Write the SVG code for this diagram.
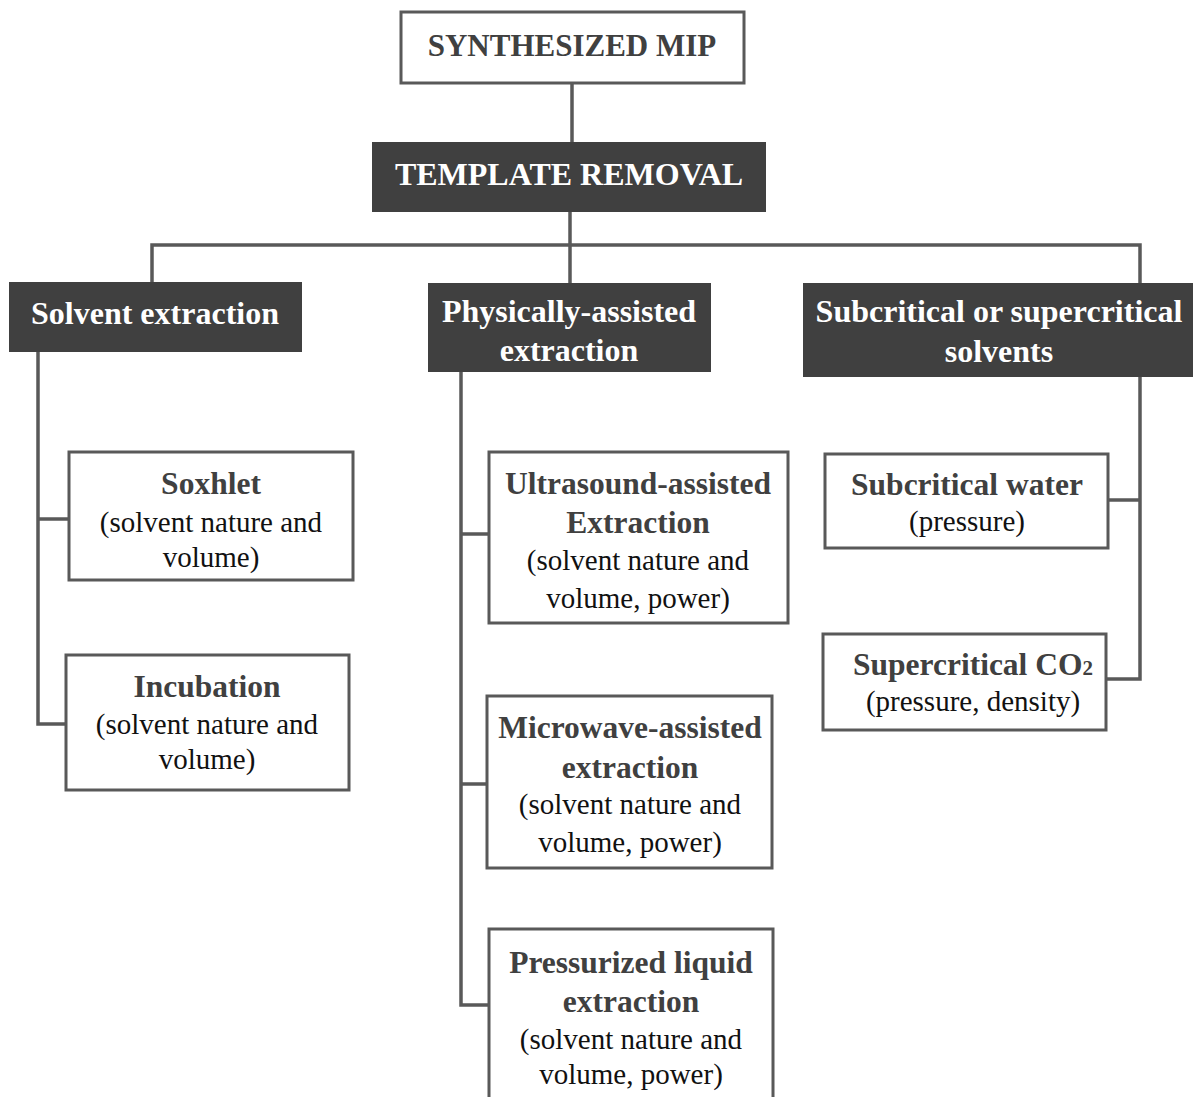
<svg xmlns="http://www.w3.org/2000/svg" width="1193" height="1097" viewBox="0 0 1193 1097">
<style>
.wbox{fill:#ffffff;stroke:#595959;stroke-width:3}
.dbox{fill:#404040;stroke:none}
.conn{fill:none;stroke:#595959;stroke-width:3.5;stroke-linejoin:miter;stroke-linecap:butt}
text{font-family:"Liberation Serif","Times New Roman",serif;text-anchor:middle}
.hd{font-weight:bold;font-size:32px;fill:#ffffff}
.top{font-weight:bold;font-size:31px;fill:#404040}
.tt{font-weight:bold;font-size:31.5px;fill:#404040}
.pl{font-size:29px;fill:#111111}
</style>
<rect width="1193" height="1097" fill="#ffffff"/>
<g id="connectors">
<path class="conn" d="M572 83 V142"/>
<path class="conn" d="M570 212 V283"/>
<path class="conn" d="M152 283 V245 H1140 V283"/>
<path class="conn" d="M38 352 V724 H66"/>
<path class="conn" d="M38 519 H69"/>
<path class="conn" d="M461 372 V1005 H489"/>
<path class="conn" d="M461 534 H489"/>
<path class="conn" d="M461 784 H487"/>
<path class="conn" d="M1140 377 V679 H1106"/>
<path class="conn" d="M1140 500 H1108"/>
</g>
<g id="synthesized-mip">
<rect class="wbox" x="401" y="12" width="343" height="71"/>
<text class="top" x="572" y="56">SYNTHESIZED MIP</text>
</g>
<g id="template-removal">
<rect class="dbox" x="372" y="142" width="394" height="70"/>
<text class="hd" x="569" y="185">TEMPLATE REMOVAL</text>
</g>
<g id="solvent-extraction">
<rect class="dbox" x="9" y="282" width="293" height="70"/>
<text class="hd" x="155" y="324">Solvent extraction</text>
</g>
<g id="physically-assisted">
<rect class="dbox" x="428" y="283" width="283" height="89"/>
<text class="hd" x="569" y="322">Physically-assisted</text>
<text class="hd" x="569" y="361">extraction</text>
</g>
<g id="subcritical-supercritical">
<rect class="dbox" x="803" y="283" width="390" height="94"/>
<text class="hd" x="999" y="322">Subcritical or supercritical</text>
<text class="hd" x="999" y="362">solvents</text>
</g>
<g id="soxhlet">
<rect class="wbox" x="69" y="452" width="284" height="128"/>
<text class="tt" x="211" y="494">Soxhlet</text>
<text class="pl" x="211" y="532">(solvent nature and</text>
<text class="pl" x="211" y="567">volume)</text>
</g>
<g id="incubation">
<rect class="wbox" x="66" y="655" width="283" height="135"/>
<text class="tt" x="207" y="697">Incubation</text>
<text class="pl" x="207" y="734">(solvent nature and</text>
<text class="pl" x="207" y="769">volume)</text>
</g>
<g id="ultrasound">
<rect class="wbox" x="489" y="452" width="299" height="171"/>
<text class="tt" x="638" y="494">Ultrasound-assisted</text>
<text class="tt" x="638" y="533">Extraction</text>
<text class="pl" x="638" y="570">(solvent nature and</text>
<text class="pl" x="638" y="608">volume, power)</text>
</g>
<g id="microwave">
<rect class="wbox" x="487" y="696" width="285" height="172"/>
<text class="tt" x="630" y="738">Microwave-assisted</text>
<text class="tt" x="630" y="778">extraction</text>
<text class="pl" x="630" y="814">(solvent nature and</text>
<text class="pl" x="630" y="852">volume, power)</text>
</g>
<g id="pressurized-liquid">
<rect class="wbox" x="489" y="929" width="284" height="180"/>
<text class="tt" x="631" y="973">Pressurized liquid</text>
<text class="tt" x="631" y="1012">extraction</text>
<text class="pl" x="631" y="1049">(solvent nature and</text>
<text class="pl" x="631" y="1084">volume, power)</text>
</g>
<g id="subcritical-water">
<rect class="wbox" x="825" y="454" width="283" height="94"/>
<text class="tt" x="967" y="495">Subcritical water</text>
<text class="pl" x="967" y="531">(pressure)</text>
</g>
<g id="supercritical-co2">
<rect class="wbox" x="823" y="634" width="283" height="96"/>
<text class="tt" x="973" y="675">Supercritical CO<tspan font-size="21">2</tspan></text>
<text class="pl" x="973" y="711">(pressure, density)</text>
</g>
</svg>
